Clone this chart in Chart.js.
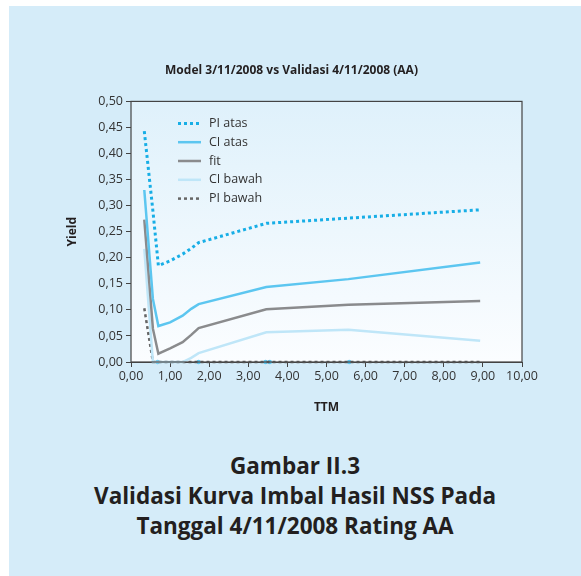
<!DOCTYPE html>
<html>
<head>
<meta charset="utf-8">
<script src="https://cdn.jsdelivr.net/npm/chart.js@4"></script>
<style>
  body { margin: 0; background: #fff; width: 581px; height: 576px; overflow: hidden; position: relative; }
  #panel { position: absolute; left: 9px; top: 6px; width: 572px; height: 570px; background: #d5ecf9; }
  #wrap { position: absolute; left: 0; top: 0; width: 581px; height: 430px; }
  #caption { position: absolute; left: 9px; width: 572px; top: 451px; text-align: center;
    font-family: "Open Sans", sans-serif; font-weight: bold; font-size: 22.5px; line-height: 30px; color: #231f20; }
</style>
</head>
<body>
<div id="panel"></div>
<div id="wrap"><canvas id="myChart" width="581" height="430"></canvas></div>
<div id="caption">Gambar II.3<br>Validasi Kurva Imbal Hasil NSS Pada<br>Tanggal 4/11/2008 Rating AA</div>
<script>
// time to maturity (years)
const ttm = [0.34, 0.56, 0.70, 1.00, 1.32, 1.54, 1.73, 3.46, 5.56, 8.93];
const piAtas  = [0.443, 0.290, 0.185, 0.194, 0.207, 0.218, 0.229, 0.266, 0.276, 0.292];
const ciAtas  = [0.330, 0.121, 0.069, 0.076, 0.089, 0.102, 0.111, 0.144, 0.159, 0.191];
const fit     = [0.273, 0.064, 0.016, 0.026, 0.038, 0.052, 0.065, 0.101, 0.110, 0.117];
const ciBawah = [0.217, 0.000, 0.000, 0.000, 0.000, 0.008, 0.017, 0.057, 0.062, 0.041];
const piBawah = [0.103, 0.000, 0.000, 0.000, 0.000, 0.000, 0.000, 0.000, 0.000, 0.000];
// validation observations sitting on the axis
const obsTtm = [0.68, 1.73, 3.44, 3.55, 5.58];
const obsYield = [0, 0, 0, 0, 0];

const xTicks = [0, 1, 2, 3, 4, 5, 6, 7, 8, 9, 10];

function pts(xs, ys) {
  return xs.map((x, i) => ({ x: x, y: ys[i] }));
}
const fmt = v => Number(v).toFixed(2).replace('.', ',');

const FONT = '"Open Sans", sans-serif';

// background gradient + box + legend inside the plot
const plotDeco = {
  id: 'plotDeco',
  beforeDatasetsDraw(chart) {
    const { ctx, chartArea: a } = chart;
    ctx.save();
    const g = ctx.createLinearGradient(0, a.top, 0, a.bottom);
    g.addColorStop(0, '#dff1fb');
    g.addColorStop(1, '#fbfdff');
    ctx.fillStyle = g;
    ctx.fillRect(a.left, a.top, a.right - a.left, a.bottom - a.top);
    ctx.restore();
  },
  afterDraw(chart) {
    const { ctx, chartArea: a } = chart;
    ctx.save();
    ctx.strokeStyle = '#444';
    ctx.lineWidth = 1.2;
    ctx.strokeRect(a.left, a.top, a.right - a.left, a.bottom - a.top);
    // legend
    let y = a.top + 22;
    ctx.font = '12.5px ' + FONT;
    ctx.textBaseline = 'middle';
    chart.data.datasets.forEach(ds => {
      if (ds.noLegend) return;
      ctx.beginPath();
      ctx.strokeStyle = ds.borderColor;
      ctx.lineWidth = ds.borderWidth;
      ctx.setLineDash(ds.borderDash || []);
      ctx.moveTo(a.left + 47, y);
      ctx.lineTo(a.left + 70, y);
      ctx.stroke();
      ctx.setLineDash([]);
      ctx.fillStyle = '#333';
      ctx.fillText(ds.label, a.left + 78, y);
      y += 18.8;
    });
    ctx.restore();
  }
};

const ctx = document.getElementById('myChart').getContext('2d');
const myChart = new Chart(ctx, {
  type: 'line',
  data: {
    datasets: [
      { label: 'PI atas', data: pts(ttm, piAtas), borderColor: '#17aee6', borderWidth: 3, borderDash: [3, 3] },
      { label: 'CI atas', data: pts(ttm, ciAtas), borderColor: '#5cc6f0', borderWidth: 2.5 },
      { label: 'fit', data: pts(ttm, fit), borderColor: '#8a8b8d', borderWidth: 2.5 },
      { label: 'CI bawah', data: pts(ttm, ciBawah), borderColor: '#bfe6f8', borderWidth: 2.5 },
      { label: 'PI bawah', data: pts(ttm, piBawah), borderColor: '#666', borderWidth: 2.5, borderDash: [3, 3] },
      { label: 'obs', noLegend: true, data: pts(obsTtm, obsYield), showLine: false,
        pointRadius: 2.2, pointBackgroundColor: '#5cc6f0', pointBorderWidth: 0 }
    ]
  },
  options: {
    animation: false,
    responsive: false,
    clip: false,
    elements: { point: { radius: 0 }, line: { tension: 0 } },
    layout: { padding: { left: 61, right: 59, top: 0, bottom: 0 } },
    plugins: {
      legend: { display: false },
      tooltip: { enabled: false },
      title: {
        display: true,
        text: 'Model 3/11/2008 vs Validasi 4/11/2008 (AA)',
        color: '#231f20',
        font: { family: FONT, size: 12, weight: 'bold' },
        padding: { top: 63, bottom: 24 }
      }
    },
    scales: {
      x: {
        type: 'linear', min: 0, max: 10,
        afterBuildTicks: s => { s.ticks = xTicks.map(v => ({ value: v })); },
        ticks: { color: '#333', font: { family: FONT, size: 12.5 }, padding: 2, callback: fmt, maxRotation: 0 },
        grid: { display: true, drawOnChartArea: false, drawTicks: true, tickLength: 5, color: '#444' },
        border: { display: true, color: '#444' },
        title: { display: true, text: 'TTM', color: '#231f20', font: { family: FONT, size: 12, weight: 'bold' }, padding: { top: 4, bottom: 15 } },
        afterFit: s => { s.height = 68; }
      },
      y: {
        min: 0, max: 0.5,
        ticks: { stepSize: 0.05, color: '#333', font: { family: FONT, size: 12.5 }, padding: 3, callback: fmt },
        grid: { display: true, drawOnChartArea: false, drawTicks: true, tickLength: 5, color: '#444' },
        border: { display: true, color: '#444' },
        title: { display: true, text: 'Yield', color: '#231f20', font: { family: FONT, size: 12, weight: 'bold' }, padding: { top: 4, bottom: 14 } },
        afterFit: s => { s.width = 70; }
      }
    }
  },
  plugins: [plotDeco]
});
</script>
</body>
</html>
